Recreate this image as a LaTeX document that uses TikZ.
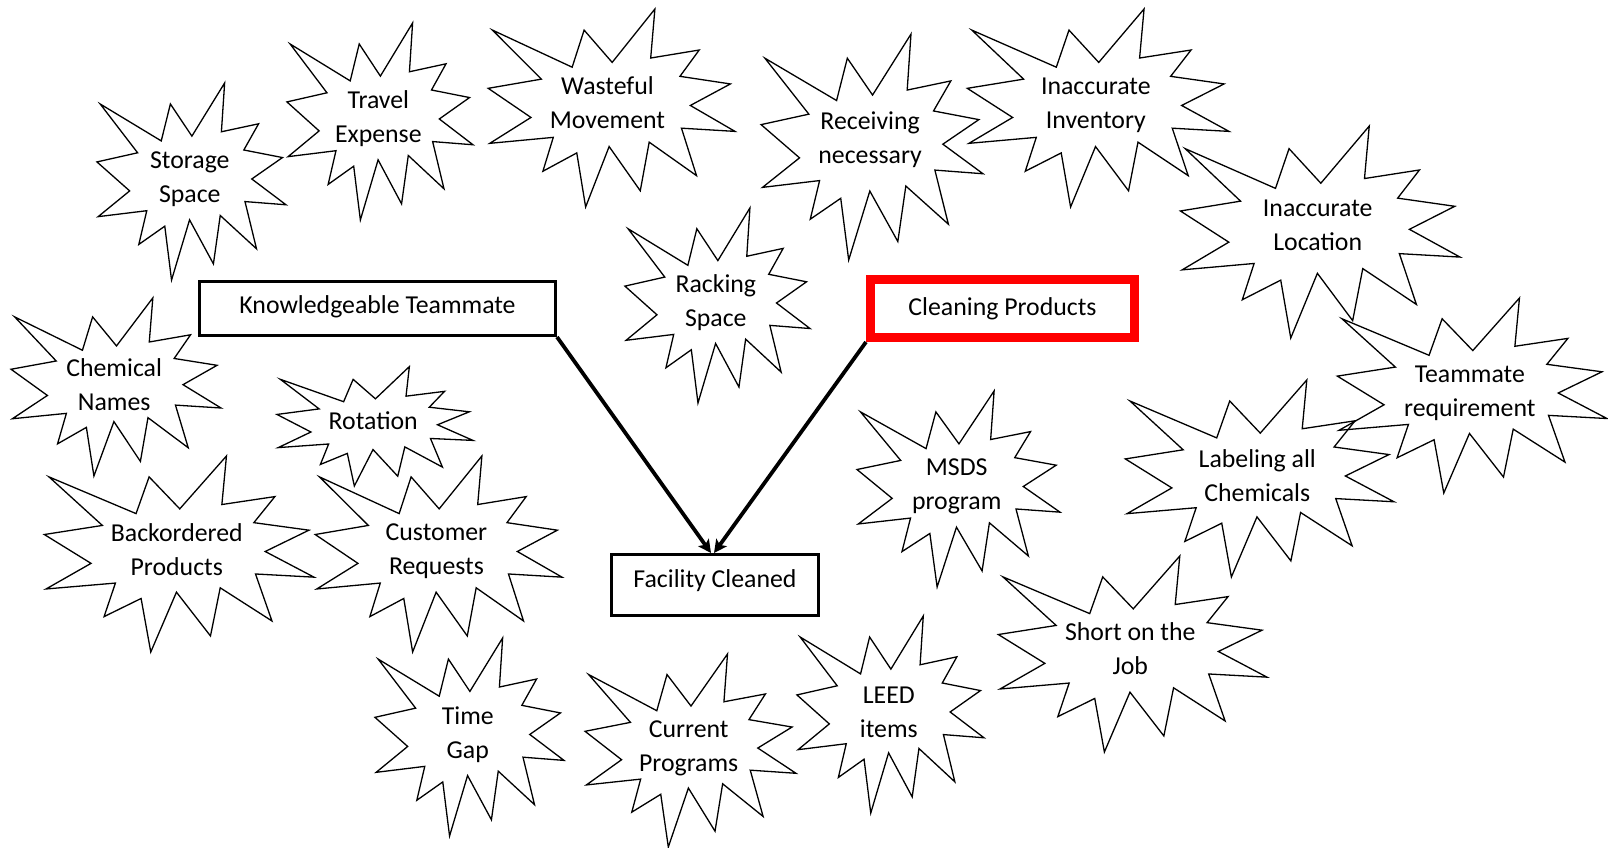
\documentclass[tikz,border=0pt]{standalone}
\usepackage{fontspec}
\setmainfont{Carlito}
\usetikzlibrary{arrows.meta}
\newcommand\boomshape[7][]{%
  \begin{scope}[shift={(#3,#4)},xscale=#5/100,yscale=#6/100]
    \draw[boomline] (50.468,27.338) -- (39.157,11.106) -- (34.338,29.745) -- (2.204,11.106)
      -- (21.907,35.75) -- (0.491,40.361) -- (17.722,55.0) -- (1.125,68.005)
      -- (26.722,65.005) -- (22.537,82.032) -- (36.199,72.824) -- (39.769,100)
      -- (49.245,69.62) -- (61.801,91.852) -- (65.394,67.412) -- (84.481,84.236)
      -- (78.417,60.389) -- (100,62.005) -- (81.991,48.977) -- (98.139,38.157)
      -- (77.806,34.338) -- (85.565,21.111) -- (66.005,25.134) -- (67.699,0.491)
      -- cycle;
    \node[boomtext,#1] (#2) at (49.37,46.89) {#7};
  \end{scope}}
\begin{document}
\begin{tikzpicture}[x=1pt,y=-1pt,
  boomline/.style={line width=1.3pt,line join=miter,black},
  boomtext/.style={align=center,font=\fontsize{25.8}{34}\selectfont,inner sep=0pt,yshift=-4pt},
  boxnode/.style={draw,line width=3pt,inner sep=0pt,font=\fontsize{25.8}{34}\selectfont,
    text height=18pt,text depth=5pt},
  redbox/.style={draw=red,line width=9pt,inner sep=0pt,font=\fontsize{25.8}{34}\selectfont,
    text height=18pt,text depth=5pt},
  arr/.style={line width=3.8pt,-{Stealth[length=13pt,width=13pt,inset=3pt]}}]
\useasboundingbox (0,0) rectangle (1608,847);

\boomshape{storage}{96}{82}{190}{198}{Storage\\Space}
\boomshape{travel}{286}{22}{187}{198}{Travel\\Expense}
\boomshape[yshift=3pt,xshift=-2pt]{wasteful}{487}{8}{248}{199}{Wasteful\\Movement}
\boomshape[yshift=4pt]{receiving}{760}{33}{223}{227}{Receiving\\necessary}
\boomshape{racking}{624}{207}{186}{196}{Racking\\Space}
\boomshape{inventory}{966}{8}{263}{199}{Inaccurate\\Inventory}
\boomshape[yshift=4pt]{location}{1179}{125}{281}{213}{Inaccurate\\Location}
\boomshape{labeling}{1124}{379}{270}{198}{Labeling all\\Chemicals}
\boomshape{teammate}{1336}{297}{271}{196}{Teammate\\requirement}
\boomshape{chemical}{10}{297}{211}{179}{Chemical\\Names}
\boomshape[yshift=6pt]{rotation}{276}{366}{197}{120}{Rotation}
\boomshape[yshift=2pt]{backordered}{43}{455}{271}{197}{Backordered\\Products}
\boomshape{customer}{314}{455}{248}{197}{Customer\\Requests}
\boomshape{msds}{856}{390}{204}{197}{MSDS\\program}
\boomshape[yshift=3pt]{short}{997}{555}{270}{197}{Short on the\\Job}
\boomshape{timegap}{374}{637}{190}{199}{Time\\Gap}
\boomshape{current}{584}{653}{212}{194}{Current\\Programs}
\boomshape{leed}{796}{615}{188}{198}{LEED\\items}

\node[boxnode,minimum width=356pt,minimum height=54pt] (kt) at (377.5,308.5) {\raisebox{2pt}{Knowledgeable Teammate}};
\node[redbox,minimum width=264pt,minimum height=58pt] (cp) at (1002.5,308.5) {Cleaning Products};
\node[boxnode,minimum width=207pt,minimum height=61pt] (fc) at (715,585) {\raisebox{4pt}{Facility Cleaned}};

\draw[arr] (kt.south east) -- ([xshift=-4pt]fc.north);
\draw[arr] (cp.south west) -- ([xshift=-1pt]fc.north);
\end{tikzpicture}
\end{document}
